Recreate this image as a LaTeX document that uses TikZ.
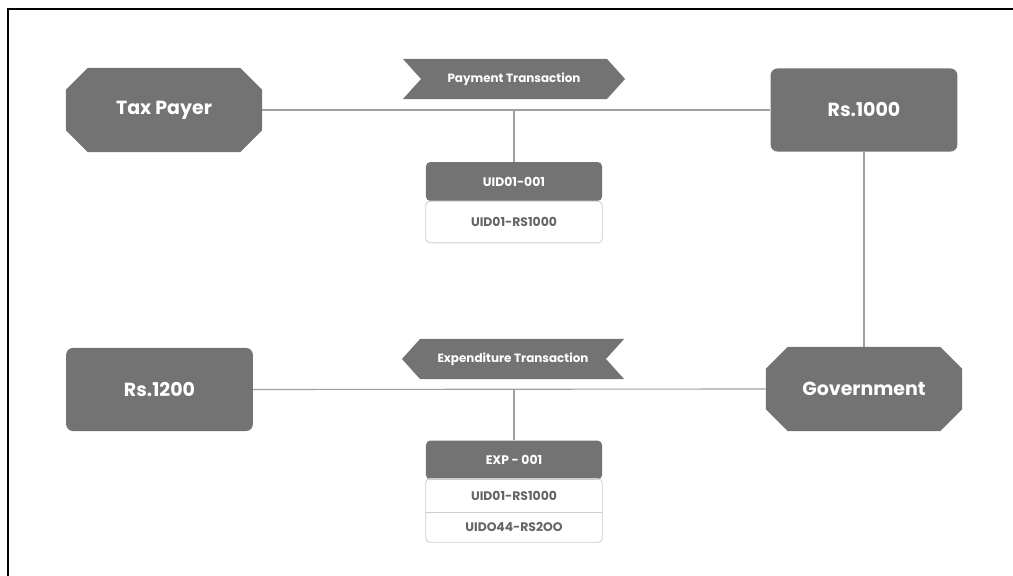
\documentclass[tikz,border=0pt]{standalone}
\usepackage{fontspec}
\setmainfont{Poppins}
\usetikzlibrary{shapes.misc, shapes.symbols, positioning, fit}
\definecolor{boxgray}{RGB}{115,115,115}
\definecolor{linegray}{RGB}{160,160,160}
\definecolor{rimgray}{RGB}{205,205,205}
\definecolor{rowtext}{RGB}{100,100,100}
\tikzset{
  partyoct/.style={chamfered rectangle, chamfered rectangle xsep=0.27cm,
    chamfered rectangle ysep=0.27cm, fill=boxgray, draw=none, text=white,
    minimum width=4.9cm, minimum height=2.1cm, font=\fontsize{13.5}{15}\selectfont\bfseries},
  amountbox/.style={rectangle, rounded corners=5pt, fill=boxgray, draw=none, text=white,
    minimum width=4.67cm, minimum height=2.08cm, font=\fontsize{13.5}{15}\selectfont\bfseries},
  flowtag/.style={signal, signal pointer angle=96, fill=boxgray, draw=none, text=white,
    minimum width=5.55cm, minimum height=1.0cm, inner sep=0pt,
    font=\fontsize{8.5}{10}\selectfont\bfseries},
  idhead/.style={rectangle, rounded corners=3pt, fill=boxgray, draw=none, text=white,
    minimum width=4.4cm, minimum height=0.97cm, inner sep=0pt,
    font=\fontsize{8.8}{10}\selectfont\bfseries},
  idrow/.style={rectangle, minimum width=4.4cm, inner sep=0pt, text=rowtext,
    font=\fontsize{8.8}{10}\selectfont\bfseries},
  rowrim/.style={rectangle, rounded corners=3pt, draw=rimgray, line width=0.6pt, inner sep=0pt},
  link/.style={line width=0.8pt, color=linegray},
  frame/.style={line width=1.8pt, color=black}
}

\begin{document}
\begin{tikzpicture}[x=0.025cm, y=-0.025cm]
  \useasboundingbox (0,0) rectangle (1013,576);
  % Outer frame (only top and left edge show)
  \draw[frame] (8,576) -- (8,9) -- (1013,9);

  % Payment side
  \node[partyoct] (taxpayer) at (164,110) {Tax Payer};
  \node[amountbox] (rsthousand) at (864,110) {Rs.1000};
  \node[flowtag, signal from=west, signal to=east] (paytag) at (514,79) {Payment Transaction};
  \node[idhead] (uidhead) at (514,181.5) {UID01-001};
  \node[idrow, minimum height=1.03cm] (uidrow) at (514,222) {UID01-RS1000};
  \node[rowrim, fit=(uidrow)] (uidrim) {};
  \coordinate (payjoin) at (514,110);
  \draw[link] (taxpayer.east) -- (rsthousand.west);
  \draw[link] (payjoin) -- (uidhead.north);

  % Expenditure side
  \node[partyoct] (government) at (864,389) {Government};
  \node[amountbox] (rstwelve) at (159.5,389.5) {Rs.1200};
  \node[flowtag, signal from=east, signal to=west] (exptag) at (513,359) {Expenditure Transaction};
  \node[idhead] (exphead) at (514,460) {EXP - 001};
  \node[idrow, minimum height=0.83cm] (exprowa) at (514,495.5) {UID01-RS1000};
  \node[idrow, minimum height=0.75cm] (exprowb) at (514,527) {UIDO44-RS2OO};
  \node[rowrim, fit=(exprowa)(exprowb)] (exprim) {};
  \draw[rowrim] (exprowa.south west) -- (exprowa.south east);
  \coordinate (expjoin) at (514,389);
  \draw[link] (government.west) -- (rstwelve.east);
  \draw[link] (expjoin) -- (exphead.north);

  % Between the two sides
  \draw[link] (rsthousand.south) -- (government.north);
\end{tikzpicture}
\end{document}
